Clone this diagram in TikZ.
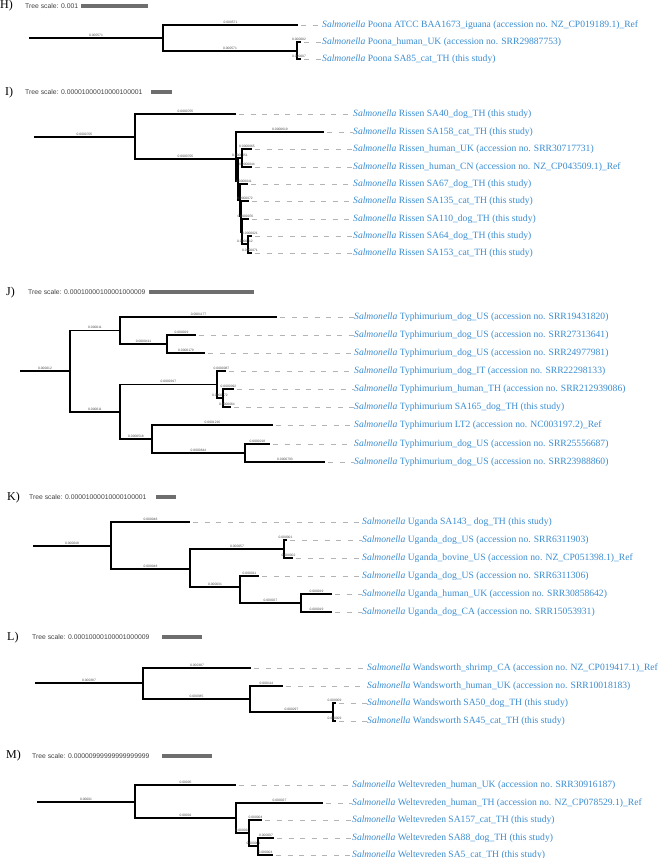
\documentclass[tikz,border=0pt]{standalone}
\usepackage{fontspec}
\setmainfont{Liberation Serif}
\newfontfamily\arialf{Liberation Sans}
\definecolor{labblue}{RGB}{58,140,208}
\definecolor{leadgray}{RGB}{180,180,180}
\definecolor{bargray}{RGB}{110,110,110}
\tikzset{
  tree/.style={line width=1.8pt, black},
  lead/.style={leadgray, line width=0.9pt, dash pattern=on 5pt off 6.5pt, shorten <=3pt},
  leaflab/.style={anchor=west, inner sep=0pt, text=labblue, font=\fontsize{9.6}{11.5}\selectfont},
  blab/.style={above, inner sep=0.7pt, text=black!70, font=\arialf\fontsize{3.3}{3.7}\selectfont},
  panlet/.style={anchor=west, inner sep=0pt, font=\fontsize{12}{14}\selectfont},
  scaletxt/.style={anchor=west, inner sep=0pt, text=black!75, font=\arialf\fontsize{6.8}{8}\selectfont},
  scalebar/.style={bargray, line width=3.5pt}
}
\newcommand\tip[5]{%
  \coordinate (#1) at (#2,#3);
  \node[leaflab] (#1L) at (#4,#3) {\textit{Salmonella} #5};
  \draw[lead] (#1) -- (#1L.west);}
\newcommand\br[3]{\draw[tree] (#1) |- (#2) node[blab,pos=0.75]{#3};}
\newcommand\rootbr[3]{\draw[tree] (#1) -- (#2) node[blab,midway]{#3};}
\newcommand\header[9]{% name, letter x, letter y, letter, text x, text y, text, bar x1, bar x2
  \node[panlet] (#1let) at (#2,#3) {#4};
  \node[scaletxt] (#1scale) at (#5,#6) {#7};
  \coordinate (#1bara) at (#8,#6);
  \coordinate (#1barb) at (#9,#6);
  \draw[scalebar] (#1bara) -- (#1barb);}
\begin{document}
\begin{tikzpicture}[x=1pt,y=-1pt]
\useasboundingbox (0,0) rectangle (661,858);
% ---------------- H ----------------
\header{H}{0}{6}{H)}{25}{6}{Tree scale: 0.001}{81}{148}
\coordinate (h0) at (29,38);
\coordinate (hr) at (163,38);
\coordinate (hb) at (297,51);
\tip{h1}{298}{25}{322}{Poona ATCC BAA1673\_iguana (accession no. NZ\_CP019189.1)\_Ref}
\tip{h2}{301}{42}{322}{Poona\_human\_UK (accession no. SRR29887753)}
\tip{h3}{301}{59}{322}{Poona SA85\_cat\_TH (this study)}
\rootbr{h0}{hr}{0.000571}
\br{hr}{h1}{0.000571}
\br{hr}{hb}{0.000571}
\br{hb}{h2}{0.000002}
\br{hb}{h3}{0.000007}
% ---------------- I ----------------
\header{I}{5}{93}{I)}{25}{92}{Tree scale: 0.00001000010000100001}{151}{172}
\coordinate (i0) at (34,137);
\coordinate (ir) at (135,137);
\coordinate (ib) at (236,159);
\coordinate (ic) at (238,181);
\coordinate (icc) at (242,158);
\coordinate (id) at (240,200);
\coordinate (ie) at (241,216);
\coordinate (if) at (242,232);
\coordinate (ig) at (248,244);
\tip{i1}{236}{114}{353}{Rissen SA40\_dog\_TH (this study)}
\tip{i2}{324}{132}{353}{Rissen SA158\_cat\_TH (this study)}
\tip{i3}{252}{149}{353}{Rissen\_human\_UK (accession no. SRR30717731)}
\tip{i4}{252}{167}{353}{Rissen\_human\_CN (accession no. NZ\_CP043509.1)\_Ref}
\tip{i5}{248}{184}{353}{Rissen SA67\_dog\_TH (this study)}
\tip{i6}{249}{201}{353}{Rissen SA135\_cat\_TH (this study)}
\tip{i7}{249}{219}{353}{Rissen SA110\_dog\_TH (this study)}
\tip{i8}{252}{236}{353}{Rissen SA64\_dog\_TH (this study)}
\tip{i9}{252}{253}{353}{Rissen SA153\_cat\_TH (this study)}
\rootbr{i0}{ir}{0.0000705}
\br{ir}{i1}{0.0000705}
\br{ir}{ib}{0.0000705}
\br{ib}{i2}{0.0000619}
\br{ib}{ic}{}
\br{ic}{icc}{0.0000051}
\br{icc}{i3}{0.0000065}
\br{icc}{i4}{0.0000044}
\br{ic}{id}{}
\br{id}{i5}{0.0000041}
\br{id}{ie}{}
\br{ie}{i6}{0.0000072}
\br{ie}{if}{}
\br{if}{i7}{0.0000076}
\br{if}{ig}{0.0000012}
\br{ig}{i8}{0.0000021}
\br{ig}{i9}{0.0000071}
% ---------------- J ----------------
\header{J}{6}{293}{J)}{28}{292}{Tree scale: 0.00010000100001000009}{149}{254}
\coordinate (j0) at (20,371);
\coordinate (jr) at (70,371);
\coordinate (ja) at (120,330.5);
\coordinate (jb) at (167,344);
\coordinate (jc) at (120,412);
\coordinate (jd) at (217,384.5);
\coordinate (jf) at (223,398);
\coordinate (je) at (152,439);
\coordinate (jg) at (245,453);
\tip{j1}{277}{317}{354}{Typhimurium\_dog\_US (accession no. SRR19431820)}
\tip{j2}{196}{335}{354}{Typhimurium\_dog\_US (accession no. SRR27313641)}
\tip{j3}{205}{353}{354}{Typhimurium\_dog\_US (accession no. SRR24977981)}
\tip{j4}{226}{371}{354}{Typhimurium\_dog\_IT (accession no. SRR22298133)}
\tip{j5}{234}{389}{354}{Typhimurium\_human\_TH (accession no. SRR212939086)}
\tip{j6}{231}{407}{354}{Typhimurium SA165\_dog\_TH (this study)}
\tip{j7}{273}{425}{354}{Typhimurium LT2 (accession no. NC003197.2)\_Ref}
\tip{j8}{270}{444}{354}{Typhimurium\_dog\_US (accession no. SRR25556687)}
\tip{j9}{325}{462}{354}{Typhimurium\_dog\_US (accession no. SRR23988860)}
\rootbr{j0}{jr}{0.000012}
\br{jr}{ja}{0.000011}
\br{ja}{j1}{0.0001177}
\br{ja}{jb}{0.0000411}
\br{jb}{j2}{0.000029}
\br{jb}{j3}{0.0000179}
\br{jr}{jc}{0.000011}
\br{jc}{jd}{0.0000917}
\br{jd}{j4}{0.0000087}
\br{jd}{jf}{0.0000072}
\br{jf}{j5}{0.0000092}
\br{jf}{j6}{0.0000064}
\br{jc}{je}{0.0000518}
\br{je}{j7}{0.0001216}
\br{je}{jg}{0.0000644}
\br{jg}{j8}{0.0000218}
\br{jg}{j9}{0.0000793}
% ---------------- K ----------------
\header{K}{7}{498}{K)}{29}{497}{Tree scale: 0.00001000010000100001}{156}{176}
\coordinate (k0) at (33,546);
\coordinate (kr) at (111,546);
\coordinate (kb) at (190,569);
\coordinate (kc) at (284,549);
\coordinate (kd) at (240,587);
\coordinate (ke) at (301,603);
\tip{k1}{190}{522}{362}{Uganda SA143\_ dog\_TH (this study)}
\tip{k2}{287}{540}{362}{Uganda\_dog\_US (accession no. SRR6311903)}
\tip{k3}{293}{558}{362}{Uganda\_bovine\_US (accession no. NZ\_CP051398.1)\_Ref}
\tip{k4}{259}{576}{362}{Uganda\_dog\_US (accession no. SRR6311306)}
\tip{k5}{332}{594}{362}{Uganda\_human\_UK (accession no. SRR30858642)}
\tip{k6}{332}{612}{362}{Uganda\_dog\_CA (accession no. SRR15053931)}
\rootbr{k0}{kr}{0.000048}
\br{kr}{k1}{0.000048}
\br{kr}{kb}{0.000048}
\br{kb}{kc}{0.000057}
\br{kc}{k2}{0.000001}
\br{kc}{k3}{0.000002}
\br{kb}{kd}{0.000031}
\br{kd}{k4}{0.000011}
\br{kd}{ke}{0.000027}
\br{ke}{k5}{0.000019}
\br{ke}{k6}{0.000019}
% ---------------- L ----------------
\header{L}{7}{638}{L)}{32}{637}{Tree scale: 0.00010000100001000009}{162}{202}
\coordinate (l0) at (35,683);
\coordinate (lr) at (143,683);
\coordinate (lb) at (250,699);
\coordinate (lc) at (333,712);
\tip{l1}{251}{668}{367}{Wandsworth\_shrimp\_CA (accession no. NZ\_CP019417.1)\_Ref}
\tip{l2}{283}{686}{367}{Wandsworth\_human\_UK (accession no. SRR10018183)}
\tip{l3}{336}{703}{367}{Wandsworth SA50\_dog\_TH (this study)}
\tip{l4}{336}{721}{367}{Wandsworth SA45\_cat\_TH (this study)}
\rootbr{l0}{lr}{0.000387}
\br{lr}{l1}{0.000387}
\br{lr}{lb}{0.000385}
\br{lb}{l2}{0.000114}
\br{lb}{lc}{0.000297}
\br{lc}{l3}{0.000009}
\br{lc}{l4}{0.000009}
% ---------------- M ----------------
\header{M}{6}{756}{M)}{32}{756}{Tree scale: 0.00000999999999999999}{162}{212}
\coordinate (m0) at (37,802);
\coordinate (mr) at (135,802);
\coordinate (mb) at (236,818);
\coordinate (mc) at (249,833);
\coordinate (md) at (258,846);
\tip{m1}{236}{785}{352}{Weltevreden\_human\_UK (accession no. SRR30916187)}
\tip{m2}{323}{803}{352}{Weltevreden\_human\_TH (accession no. NZ\_CP078529.1)\_Ref}
\tip{m3}{262}{820}{352}{Weltevreden SA157\_cat\_TH (this study)}
\tip{m4}{274}{838}{352}{Weltevreden SA88\_dog\_TH (this study)}
\tip{m5}{273}{855}{352}{Weltevreden SA5\_cat\_TH (this study)}
\rootbr{m0}{mr}{0.00001}
\br{mr}{m1}{0.00005}
\br{mr}{mb}{0.00001}
\br{mb}{m2}{0.000027}
\br{mb}{mc}{0.000028}
\br{mc}{m3}{0.000004}
\br{mc}{md}{0.000001}
\br{md}{m4}{0.000007}
\br{md}{m5}{0.000004}
\end{tikzpicture}
\end{document}
